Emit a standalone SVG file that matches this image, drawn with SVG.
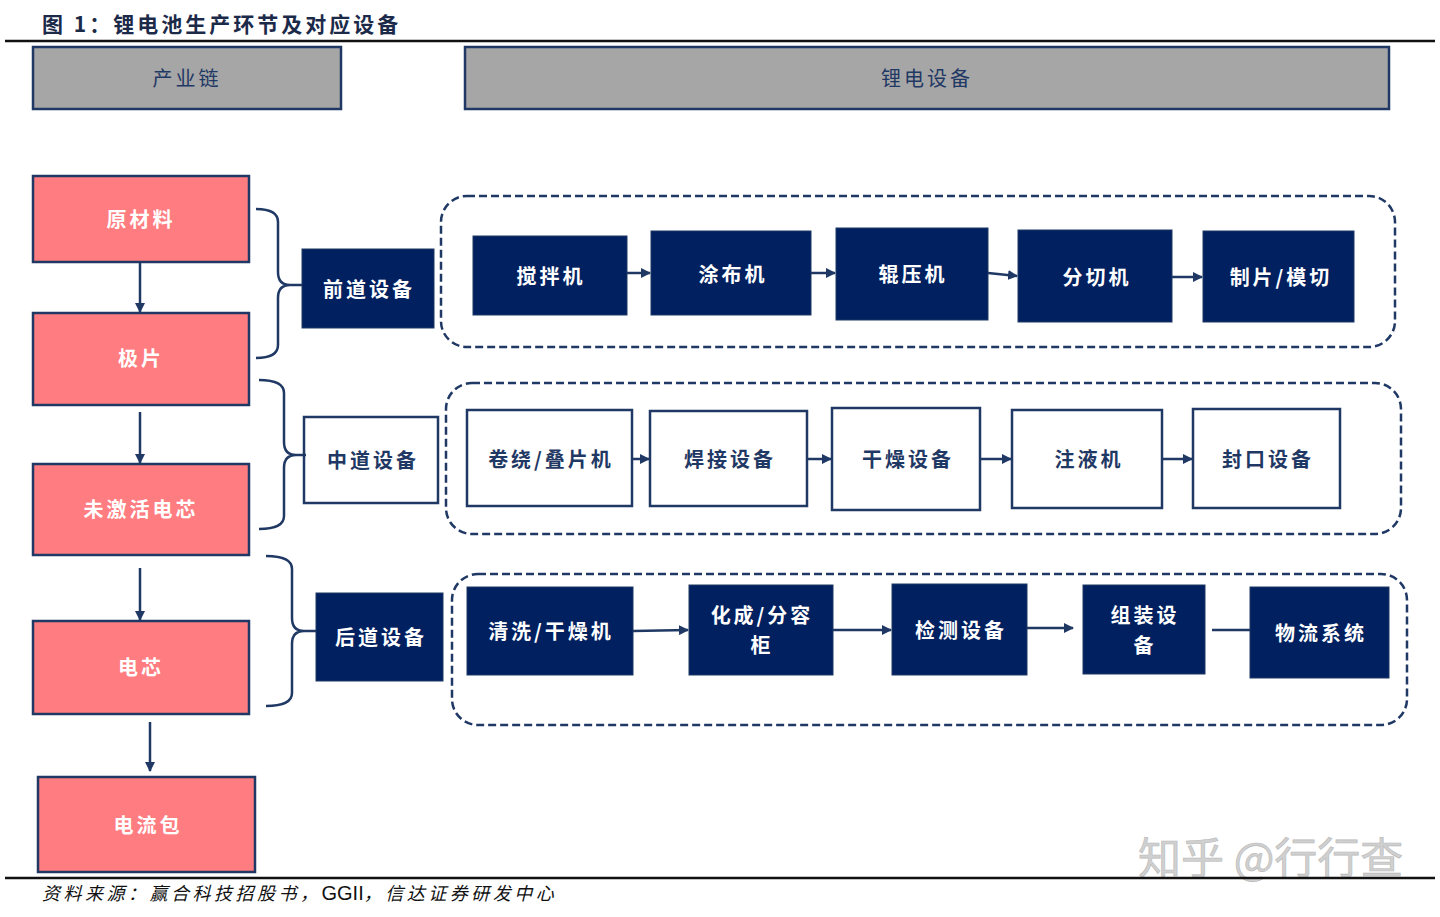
<svg xmlns="http://www.w3.org/2000/svg" width="1440" height="917" viewBox="0 0 1440 917">
<defs>
<marker id="ah" viewBox="0 0 10 10" refX="9" refY="5" markerWidth="4" markerHeight="4" orient="auto" markerUnits="strokeWidth"><path d="M0,0 L10,5 L0,10 z" fill="#1f3864"/></marker>
<style>
text{font-family:"Noto Sans CJK SC","Noto Sans",sans-serif;}
.t{font-size:21px;font-weight:bold;fill:#1c2a4a;letter-spacing:3px;}
.hdr{fill:#a6a6a6;stroke:#1f3864;stroke-width:2.5;}
.hl{font-size:20px;fill:#1f3864;text-anchor:middle;letter-spacing:3px;}
.pk{fill:#ff7c80;stroke:#1f3864;stroke-width:2.5;}
.pl{font-size:20px;fill:#ffffff;font-weight:bold;text-anchor:middle;letter-spacing:3px;}
.nv{fill:#002060;stroke:#1f3864;stroke-width:1;}
.nl{font-size:20px;fill:#ffffff;font-weight:bold;text-anchor:middle;letter-spacing:3px;}
.wb{fill:#ffffff;stroke:#1f3864;stroke-width:2.5;}
.wl{font-size:20px;fill:#1f3864;font-weight:bold;text-anchor:middle;letter-spacing:3px;}
.dash{fill:none;stroke:#1f3864;stroke-width:2.5;stroke-dasharray:8,4;}
.c{fill:none;stroke:#1f3864;stroke-width:2.5;}
.ca{fill:none;stroke:#1f3864;stroke-width:2.5;marker-end:url(#ah);}
.rule{stroke:#111111;stroke-width:2.5;}
</style>
</defs>
<rect width="1440" height="917" fill="#ffffff"/>
<g id="title">
<text class="t" x="42" y="32">图 1：锂电池生产环节及对应设备</text>
<line class="rule" x1="5" y1="41" x2="1435" y2="41"/>
</g>
<g id="hdr-chain"><rect class="hdr" x="33" y="47" width="308" height="62"/><text class="hl" x="187" y="86">产业链</text></g>
<g id="hdr-equip"><rect class="hdr" x="465" y="47" width="924" height="62"/><text class="hl" x="927" y="86">锂电设备</text></g>

<g id="raw"><rect class="pk" x="33" y="176" width="216" height="86"/><text class="pl" x="141" y="227">原材料</text></g>
<g id="electrode"><rect class="pk" x="33" y="313" width="216" height="92"/><text class="pl" x="141" y="366">极片</text></g>
<g id="inactive-cell"><rect class="pk" x="33" y="464" width="216" height="91"/><text class="pl" x="141" y="517">未激活电芯</text></g>
<g id="cell"><rect class="pk" x="33" y="621" width="216" height="93"/><text class="pl" x="141" y="675">电芯</text></g>
<g id="pack"><rect class="pk" x="38" y="777" width="217" height="95"/><text class="pl" x="148" y="833">电流包</text></g>

<g id="front"><rect class="nv" x="302" y="249" width="132" height="79"/><text class="nl" x="369" y="297">前道设备</text></g>
<g id="middle"><rect class="wb" x="304" y="417" width="134" height="86"/><text class="wl" x="373" y="468">中道设备</text></g>
<g id="back"><rect class="nv" x="316" y="593" width="127" height="88"/><text class="nl" x="381" y="645">后道设备</text></g>

<g id="containers">
<rect class="dash" x="441" y="196" width="954" height="151" rx="26"/>
<rect class="dash" x="446" y="383" width="955" height="151" rx="26"/>
<rect class="dash" x="452" y="574" width="955" height="151" rx="26"/>
</g>

<g id="mixer"><rect class="nv" x="473" y="236" width="154" height="79"/><text class="nl" x="551" y="284">搅拌机</text></g>
<g id="coater"><rect class="nv" x="651" y="231" width="160" height="84"/><text class="nl" x="733" y="282">涂布机</text></g>
<g id="roller"><rect class="nv" x="836" y="228" width="152" height="92"/><text class="nl" x="913" y="282">辊压机</text></g>
<g id="slitter"><rect class="nv" x="1018" y="230" width="154" height="92"/><text class="nl" x="1097" y="285">分切机</text></g>
<g id="diecut"><rect class="nv" x="1203" y="231" width="151" height="91"/><text class="nl" x="1281" y="285">制片/模切</text></g>

<g id="winder"><rect class="wb" x="467" y="410" width="165" height="96"/><text class="wl" x="551" y="467">卷绕/叠片机</text></g>
<g id="welder"><rect class="wb" x="650" y="411" width="157" height="95"/><text class="wl" x="730" y="467">焊接设备</text></g>
<g id="dryer"><rect class="wb" x="832" y="408" width="148" height="102"/><text class="wl" x="908" y="467">干燥设备</text></g>
<g id="injector"><rect class="wb" x="1012" y="410" width="150" height="98"/><text class="wl" x="1089" y="467">注液机</text></g>
<g id="sealer"><rect class="wb" x="1193" y="409" width="147" height="99"/><text class="wl" x="1268" y="467">封口设备</text></g>

<g id="cleaner"><rect class="nv" x="467" y="587" width="166" height="88"/><text class="nl" x="551" y="639">清洗/干燥机</text></g>
<g id="formation"><rect class="nv" x="689" y="585" width="144" height="90"/><text class="nl" x="762" y="623">化成/分容</text><text class="nl" x="762" y="653">柜</text></g>
<g id="tester"><rect class="nv" x="892" y="584" width="135" height="91"/><text class="nl" x="961" y="638">检测设备</text></g>
<g id="assembly"><rect class="nv" x="1083" y="585" width="122" height="89"/><text class="nl" x="1145" y="623">组装设</text><text class="nl" x="1145" y="653">备</text></g>
<g id="logistics"><rect class="nv" x="1250" y="587" width="139" height="91"/><text class="nl" x="1321" y="641">物流系统</text></g>

<g id="connectors">
<line class="ca" x1="140" y1="262" x2="140" y2="312"/>
<line class="ca" x1="140" y1="412" x2="140" y2="463"/>
<line class="ca" x1="140" y1="568" x2="140" y2="620"/>
<line class="ca" x1="150" y1="722" x2="150" y2="771"/>
<path class="c" d="M256,209 Q278,209 278,222 V272 Q278,285 290,285 H302 M290,285 Q278,285 278,298 V345 Q278,358 256,358"/>
<path class="c" d="M259,380 Q284,380 284,393 V442 Q284,455 296,455 H306 M296,455 Q284,455 284,468 V516 Q284,529 259,529"/>
<path class="c" d="M266,556 Q292,556 292,569 V618 Q292,631 304,631 H316 M304,631 Q292,631 292,644 V693 Q292,706 266,706"/>
<line class="ca" x1="627" y1="273" x2="650" y2="273"/>
<line class="ca" x1="811" y1="273" x2="835" y2="273"/>
<line class="ca" x1="988" y1="273" x2="1017" y2="276"/>
<line class="ca" x1="1172" y1="277" x2="1202" y2="277"/>
<line class="ca" x1="632" y1="459" x2="649" y2="459"/>
<line class="ca" x1="807" y1="459" x2="831" y2="459"/>
<line class="ca" x1="980" y1="459" x2="1011" y2="459"/>
<line class="ca" x1="1162" y1="459" x2="1192" y2="459"/>
<line class="ca" x1="633" y1="631" x2="688" y2="630"/>
<line class="ca" x1="833" y1="630" x2="891" y2="630"/>
<line class="ca" x1="1027" y1="628" x2="1073" y2="628"/>
<line class="c" x1="1212" y1="630" x2="1250" y2="630"/>
</g>

<g id="footer">
<text x="1138" y="874" font-size="43" fill="#d0d0d0" stroke="#b8b8b8" stroke-width="0.6">知乎 @行行查</text>
<line class="rule" x1="5" y1="878" x2="1435" y2="878"/>
<text x="42" y="900" font-size="18" font-style="italic" fill="#111111" letter-spacing="3.5">资料来源：赢合科技招股书，<tspan font-family="Liberation Sans, sans-serif" font-style="normal" font-size="20" letter-spacing="0">GGII</tspan>，信达证券研发中心</text>
</g>
</svg>
